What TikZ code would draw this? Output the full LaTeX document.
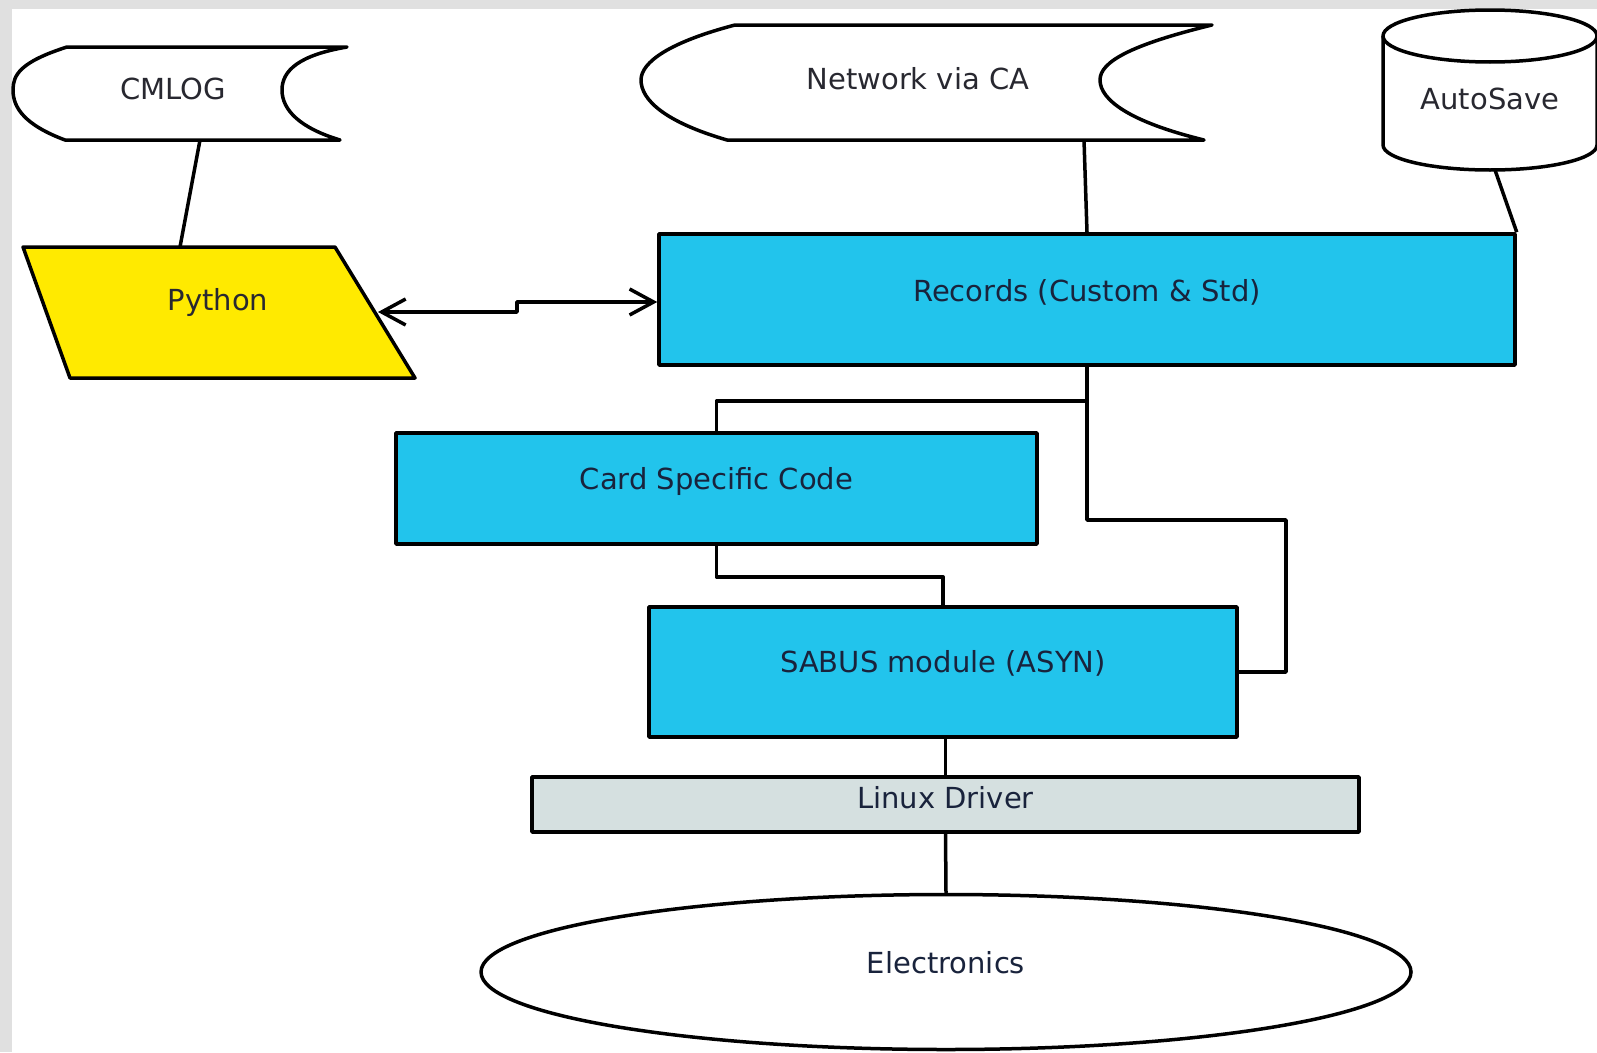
\documentclass[tikz,border=0pt]{standalone}
\usepackage{fontspec}
\setmainfont{DejaVu Sans}
\usetikzlibrary{shapes.geometric,arrows.meta}

\definecolor{boxblue}{RGB}{34,196,236}
\definecolor{pyyellow}{RGB}{255,234,0}
\definecolor{drvgray}{RGB}{213,224,224}
\definecolor{framegray}{RGB}{224,224,224}
\definecolor{txt}{RGB}{40,40,48}
\definecolor{txtdark}{RGB}{25,35,60}

\tikzset{barbtip/.tip={Straight Barb[length=24pt,width=26pt,line width=3.5pt]}}
\newcommand{\blocktext}[2]{\raisebox{#1}{\fontsize{29}{33}\selectfont\color{txtdark}#2}}

\begin{document}
\begin{tikzpicture}[x=1pt,y=-1pt,line join=round,
  outline/.style={draw=black,line width=3.5pt},
  blockbox/.style={outline,fill=boxblue,rectangle,inner sep=0pt},
  drvbox/.style={outline,fill=drvgray,rectangle,inner sep=0pt},
  txtlabel/.style={font=\fontsize{29}{33}\selectfont,text=txt,inner sep=0pt},
  wire/.style={draw=black,line width=3.5pt}]

% canvas and frame
\useasboundingbox (0,0) rectangle (1597,1052);
\fill[white] (0,0) rectangle (1597,1052);
\fill[framegray] (0,0) rectangle (1597,9);
\fill[framegray] (0,0) rectangle (12,1052);

% stored-data shapes
\draw[outline,fill=white] (67,47) -- (347,47)
  .. controls (300,55) and (282,70) .. (282,90)
  .. controls (282,110) and (300,128) .. (340,140)
  -- (65,140)
  .. controls (25,125) and (13,108) .. (13,90)
  .. controls (13,75) and (20,62) .. (67,47) -- cycle;
\node[txtlabel] (cmlog) at (173,89) {CMLOG};

\draw[outline,fill=white] (735,25) -- (1212,25)
  .. controls (1130,45) and (1100,62) .. (1100,80)
  .. controls (1100,100) and (1130,122) .. (1204,140)
  -- (727,140)
  .. controls (665,122) and (641,100) .. (641,80)
  .. controls (641,62) and (670,42) .. (735,25) -- cycle;
\node[txtlabel] (net) at (918,79) {Network via CA};

% AutoSave cylinder
\draw[outline,fill=white] (1383,36) -- (1383,145)
  arc[start angle=180,end angle=0,x radius=107,y radius=25] -- (1597,36);
\draw[outline,fill=white] (1490,36) ellipse[x radius=107,y radius=26];
\node[txtlabel] (autosave) at (1490,99) {AutoSave};

% Python input shape
\draw[outline,fill=pyyellow] (23,247) -- (335,247) -- (415,378) -- (70,378) -- cycle;
\node[txtlabel] (py) at (218,302) {Python};

% blocks
\node[blockbox,minimum width=856pt,minimum height=131pt] (rec) at (1087,299.5)
  {\blocktext{19pt}{Records (Custom \& Std)}};
\node[blockbox,minimum width=641pt,minimum height=111pt] (card) at (716.5,488.5)
  {\blocktext{20pt}{Card Specific Code}};
\node[blockbox,minimum width=588pt,minimum height=130pt] (sabus) at (943,672)
  {\blocktext{21pt}{SABUS module (ASYN)}};
\node[drvbox,minimum width=827pt,minimum height=55pt] (lin) at (945.5,804.5)
  {\blocktext{15pt}{Linux Driver}};
\node[ellipse,outline,fill=white,inner sep=0pt,minimum width=930pt,minimum height=155pt]
  (elec) at (946,972)
  {\blocktext{19pt}{Electronics}};

% connector end points on the drawn outlines
\coordinate (cm-b) at (200,140);
\coordinate (py-t) at (180,247);
\coordinate (py-e) at (378,312);
\coordinate (net-b) at (1084,140);
\coordinate (as-b) at (1495,170);
\coordinate (split) at (1087,401);

% connectors
\draw[wire] (cm-b) -- (py-t);
\draw[wire] (net-b) -- (rec.north);
\draw[wire] (as-b) -- (rec.north east);
\draw[wire,barbtip-barbtip] (py-e) -- (517,312) -- (517,302) -- (rec.west |- 517,302);
\draw[wire] (rec.south) -- (split) -| (card.north);
\draw[wire] (split) -- (1087,520) -- (1286,520) |- (sabus.east);
\draw[wire] (card.south) -- ++(0,31) -| (sabus.north);
\draw[wire] (lin.north |- sabus.south) -- (lin.north);
\draw[wire] (lin.south) -- (elec.north);
\end{tikzpicture}
\end{document}
